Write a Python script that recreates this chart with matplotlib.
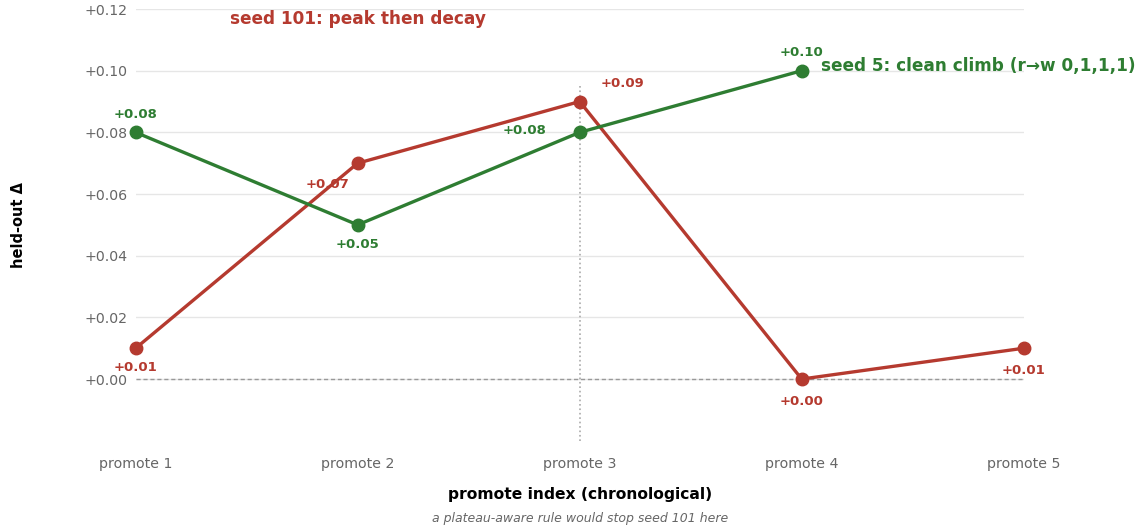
import matplotlib
matplotlib.use("Agg")
import matplotlib.pyplot as plt
from matplotlib.ticker import FuncFormatter

plt.rcParams["font.family"] = ["DejaVu Sans"]

# data
promotes = ["promote 1", "promote 2", "promote 3", "promote 4", "promote 5"]
seed101 = [0.01, 0.07, 0.09, 0.00, 0.01]
seed5 = [0.08, 0.05, 0.08, 0.10]
yticks = [0.00, 0.02, 0.04, 0.06, 0.08, 0.10, 0.12]

red = "#b53a2f"
green = "#2e7d32"
grey = "#666666"

fig = plt.figure(figsize=(11.4, 5.31), dpi=100)
ax = fig.add_axes([0.119, 0.170, 0.779, 0.813])

ax.set_xlim(0, 4)
ax.set_ylim(-0.02, 0.12)
ax.set_yticks(yticks)
ax.yaxis.set_major_formatter(FuncFormatter(lambda v, p: f"{v:+.2f}"))
ax.set_xticks(range(len(promotes)))
ax.set_xticklabels(promotes)
ax.grid(axis="y", color="#e6e6e6", linewidth=1)
ax.set_axisbelow(True)
for s in ax.spines.values():
    s.set_visible(False)
ax.tick_params(length=0, labelsize=10.2, labelcolor=grey)
ax.tick_params(axis="y", pad=6)
ax.tick_params(axis="x", pad=12)

ax.axhline(0, color="#999999", linestyle="--", linewidth=1, dashes=(3, 2))
ax.vlines(2, -0.02, 0.095, color="#aaaaaa", linestyle=":", linewidth=1.2)

x101 = list(range(len(seed101)))
x5 = list(range(len(seed5)))
ax.plot(x101, seed101, color=red, linewidth=2.4, marker="o", markersize=9, clip_on=False, zorder=3)
ax.plot(x5, seed5, color=green, linewidth=2.4, marker="o", markersize=9, clip_on=False, zorder=3)

# point labels (offsets in points)
off101 = [(0, -14), (-22, -15), (31, 13), (0, -16), (0, -16)]
off5 = [(0, 13), (0, -14), (-40, 1), (0, 13)]
for xi, yi, o in zip(x101, seed101, off101):
    ax.annotate(f"{yi:+.2f}", (xi, yi), xytext=o, textcoords="offset points",
                ha="center", va="center", color=red, fontsize=9.5, fontweight="bold")
for xi, yi, o in zip(x5, seed5, off5):
    ax.annotate(f"{yi:+.2f}", (xi, yi), xytext=o, textcoords="offset points",
                ha="center", va="center", color=green, fontsize=9.5, fontweight="bold")

ax.text(0.425, 0.1168, "seed 101: peak then decay", color=red, fontsize=12.2,
        fontweight="bold", ha="left", va="center")
ax.text(3.085, 0.1016, "seed 5: clean climb (r\u2192w 0,1,1,1)", color=green, fontsize=12.2,
        fontweight="bold", ha="left", va="center")

ax.set_ylabel("held-out \u0394", fontsize=10.5, fontweight="bold")
ax.yaxis.set_label_coords(-0.124, 0.5)
ax.set_xlabel("promote index (chronological)", fontsize=11.2, fontweight="bold", labelpad=11)
fig.text(0.509, 0.024, "a plateau-aware rule would stop seed 101 here", fontsize=9,
         style="italic", color=grey, ha="center", va="center")

fig.savefig("out.png", dpi=100)
